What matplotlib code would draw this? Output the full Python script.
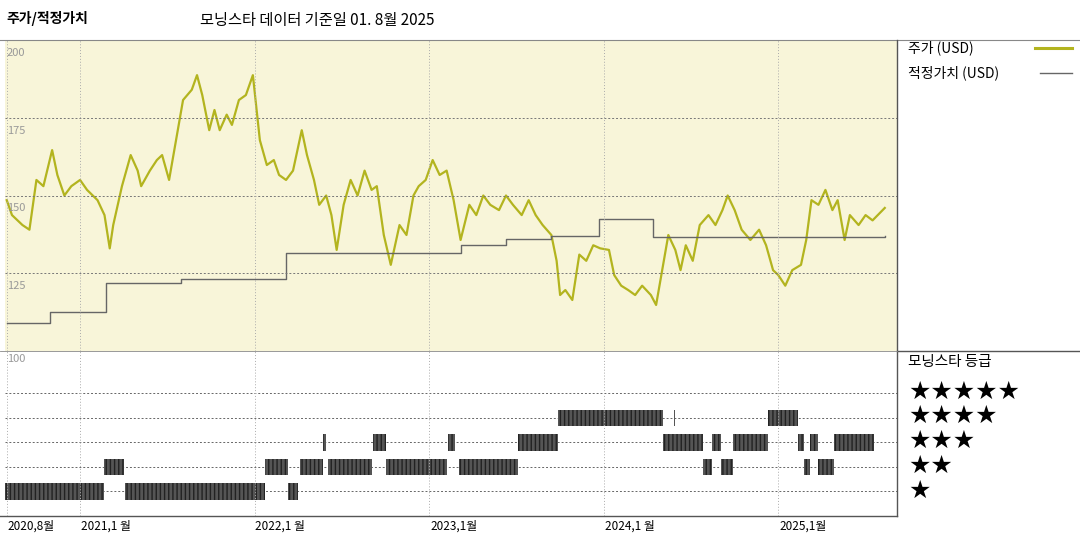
import matplotlib
matplotlib.use("Agg")
import matplotlib.pyplot as plt
from matplotlib.lines import Line2D

plt.rcParams['font.family'] = ['Noto Sans CJK KR', 'DejaVu Sans']

price_t = [2020.58,2020.61,2020.67,2020.71,2020.75,2020.79,2020.84,2020.87,2020.91,2020.95,2021.00,2021.04,2021.10,2021.14,2021.17,2021.19,2021.24,2021.29,2021.33,2021.35,2021.40,2021.44,2021.47,2021.51,2021.55,2021.59,2021.64,2021.67,2021.70,2021.74,2021.77,2021.80,2021.84,2021.87,2021.91,2021.95,2021.99,2022.03,2022.07,2022.11,2022.14,2022.18,2022.22,2022.27,2022.30,2022.34,2022.37,2022.41,2022.44,2022.47,2022.51,2022.55,2022.59,2022.63,2022.67,2022.70,2022.74,2022.78,2022.83,2022.87,2022.91,2022.94,2022.98,2023.02,2023.06,2023.10,2023.14,2023.18,2023.23,2023.27,2023.31,2023.35,2023.40,2023.44,2023.48,2023.53,2023.57,2023.61,2023.65,2023.70,2023.73,2023.75,2023.78,2023.82,2023.86,2023.90,2023.94,2023.98,2024.03,2024.06,2024.10,2024.14,2024.18,2024.22,2024.27,2024.30,2024.34,2024.37,2024.41,2024.44,2024.47,2024.51,2024.55,2024.60,2024.64,2024.68,2024.71,2024.75,2024.79,2024.84,2024.89,2024.93,2024.97,2025.00,2025.04,2025.08,2025.13,2025.16,2025.19,2025.23,2025.27,2025.31,2025.34,2025.38,2025.41,2025.46,2025.50,2025.54,2025.57,2025.61]
price = [148.5,143.7,140.5,139,155,153,164.6,156.6,150,153,155,151.8,148.5,143.7,133,140.5,153,163,158,153,158,161.4,163,155,167.8,180.7,184,188.7,182.3,171,177.5,171,176,172.7,180.7,182.3,188.7,167.8,159.8,161.4,156.6,155,158,171,163,155,147,150,143.7,132.5,147,155,150,158,151.8,153,137.3,127.7,140.5,137.3,150,153,155,161.4,156.6,158,148.5,135.7,147,143.7,150,147,145.3,150,147,143.7,148.5,143.7,140.5,137.3,129,118,119.6,116.4,131,129,134,133,132.5,124.4,121,119.6,118,121,118,114.8,127.7,137.3,132.5,126,134,129,140.5,143.7,140.5,145.3,150,145.3,139,135.7,139,134,126,124.4,121,126,127.7,135.7,148.5,147,151.8,145.3,148.5,135.7,143.7,140.5,143.7,142,143.7,146]

fv_t = [2020.58,2020.83,2021.15,2021.58,2022.18,2023.18,2023.44,2023.70,2023.97,2024.28,2025.61]
fv = [109,112.5,122,123,131.5,134,136,137,142.5,136.5,137]

rating_start = [2020.57,2021.14,2021.26,2022.06,2022.19,2022.26,2022.39,2022.42,2022.68,2022.75,2023.11,2023.17,2023.51,2023.74,2024.34,2024.40,2024.57,2024.62,2024.67,2024.74,2024.94,2025.11,2025.15,2025.18,2025.23,2025.32]
rating_end = [2021.14,2021.25,2022.06,2022.19,2022.25,2022.39,2022.41,2022.67,2022.75,2023.10,2023.15,2023.51,2023.74,2024.34,2024.57,2024.41,2024.62,2024.67,2024.74,2024.94,2025.11,2025.15,2025.18,2025.23,2025.32,2025.55]
rating = [1,2,1,2,1,2,3,2,3,2,3,2,3,4,3,4,2,3,2,3,4,3,2,3,2,3]

year_ticks = [2020.58,2021.0,2022.0,2023.0,2024.0,2025.0]
year_labels = ['2020,8월','2021,1 월','2022,1 월','2023,1월','2024,1 월','2025,1월']
price_ticks = [125,150,175,200]

OLIVE = '#b3b41f'
XMIN, XMAX = 2020.57, 2025.68

fig = plt.figure(figsize=(10.8, 5.4), dpi=100)
ax1 = fig.add_axes([5/1080, 1-351/540, 892/1080, 311/540])
ax2 = fig.add_axes([5/1080, 1-516/540, 892/1080, 165/540])

ax1.set_facecolor('#f8f5d9')
ax1.plot(price_t, price, color=OLIVE, lw=1.6)
ax1.step(fv_t, fv, where='post', color='#666666', lw=1)
ax1.set_xlim(XMIN, XMAX)
ax1.set_ylim(100, 200)
for v in price_ticks:
    ax1.axhline(v, color='#777777', lw=0.7, ls=(0, (2, 2)))
    ax1.text(XMIN + 0.01, v - 2.5, str(v), fontsize=8, color='#999999', va='top', ha='left')
for t in year_ticks:
    ax1.axvline(t, color='#aaaaaa', lw=0.7, ls=(0, (1, 2)))
    ax2.axvline(t, color='#aaaaaa', lw=0.7, ls=(0, (1, 2)))

for s, e, r in zip(rating_start, rating_end, rating):
    ax2.broken_barh([(s, e - s)], (r - 0.33, 0.66), facecolor='#555555', edgecolor='#222222', hatch='||||', lw=0)
ax2.set_xlim(XMIN, XMAX)
ax2.set_ylim(0, 6.73)
for r in range(1, 6):
    ax2.axhline(r, color='#666666', lw=0.7, ls=(0, (2, 2)), zorder=0)
ax2.text(XMIN + 0.01, 6.6, '100', fontsize=8, color='#999999', va='top', ha='left')
for t, lab in zip(year_ticks, year_labels):
    ax2.text(t + 0.005, -0.15, lab, fontsize=8.5, va='top', ha='left')

for a in (ax1, ax2):
    a.set_xticks([]); a.set_yticks([])
    for sp in a.spines.values():
        sp.set_visible(False)

def fl(x0, y0, x1, y1, c='#555555', lw=1):
    fig.add_artist(Line2D([x0/1080, x1/1080], [1-y0/540, 1-y1/540], color=c, lw=lw))
fl(0, 40, 1080, 40, '#888888', 0.8)
fl(0, 516, 897, 516)
fl(897, 40, 897, 516)
fl(897, 351, 1080, 351)
fl(0, 351, 897, 351, '#888888', 0.6)

fig.text(6/1080, 1-18/540, '주가/적정가치', fontsize=10, fontweight='bold', va='center')
fig.text(200/1080, 1-20/540, '모닝스타 데이터 기준일 01. 8월 2025', fontsize=11, va='center')
fig.text(908/1080, 1-48/540, '주가 (USD)', fontsize=10, va='center')
fl(1035, 48, 1072, 48, OLIVE, 2.2)
fig.text(908/1080, 1-73/540, '적정가치 (USD)', fontsize=10, va='center')
fl(1040, 73, 1072, 73, '#666666', 1)
fig.text(908/1080, 1-362/540, '모닝스타 등급', fontsize=10.5, va='center')
for i, y in enumerate([392, 416, 441, 466, 491]):
    fig.text(908/1080, 1-y/540, '★' * (5 - i), fontsize=18, va='center', family=['DejaVu Sans'])

fig.savefig('out.png', dpi=100)
